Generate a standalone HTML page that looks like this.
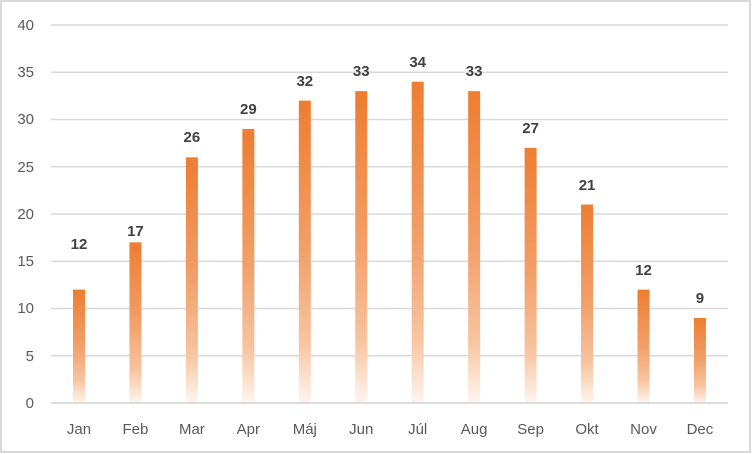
<!DOCTYPE html>
<html><head><meta charset="utf-8"><style>body{margin:0;background:#fff}svg{display:block}</style></head><body>
<svg width="752" height="454" xmlns="http://www.w3.org/2000/svg" font-family="Liberation Sans, sans-serif">
<defs><linearGradient id="g" x1="0" y1="0" x2="0" y2="1">
<stop offset="0" stop-color="#ED7D31"/><stop offset="0.5" stop-color="#F2A06A"/><stop offset="0.8" stop-color="#F7C4A0"/><stop offset="1" stop-color="#FEF5EF"/></linearGradient></defs>
<rect x="1" y="1" width="749" height="451" fill="#fff" stroke="#d9d9d9" stroke-width="2"/>
<g stroke="#d9d9d9" stroke-width="1.5">
<line x1="51" x2="728" y1="25" y2="25"/><line x1="51" x2="728" y1="72.3" y2="72.3"/><line x1="51" x2="728" y1="119.5" y2="119.5"/><line x1="51" x2="728" y1="166.8" y2="166.8"/><line x1="51" x2="728" y1="214" y2="214"/><line x1="51" x2="728" y1="261.3" y2="261.3"/><line x1="51" x2="728" y1="308.5" y2="308.5"/><line x1="51" x2="728" y1="355.8" y2="355.8"/></g>
<g font-size="15" fill="#595959" text-anchor="end">
<text x="34" y="30">40</text><text x="34" y="77">35</text><text x="34" y="124">30</text><text x="34" y="172">25</text><text x="34" y="219">20</text><text x="34" y="266">15</text><text x="34" y="313">10</text><text x="34" y="361">5</text><text x="34" y="408">0</text></g>
<g fill="url(#g)">
<rect x="73" y="289.6" width="12" height="113.4"/>
<rect x="129.45" y="242.35" width="12" height="160.65"/>
<rect x="185.9" y="157.3" width="12" height="245.7"/>
<rect x="242.35" y="128.95" width="12" height="274.05"/>
<rect x="298.8" y="100.6" width="12" height="302.4"/>
<rect x="355.25" y="91.15" width="12" height="311.85"/>
<rect x="411.7" y="81.7" width="12" height="321.3"/>
<rect x="468.15" y="91.15" width="12" height="311.85"/>
<rect x="524.6" y="147.85" width="12" height="255.15"/>
<rect x="581.05" y="204.55" width="12" height="198.45"/>
<rect x="637.5" y="289.6" width="12" height="113.4"/>
<rect x="693.95" y="317.95" width="12" height="85.05"/></g>
<line x1="51" x2="728" y1="403" y2="403" stroke="#d0d0d0" stroke-width="1.5"/>
<g font-size="15" font-weight="bold" fill="#404040" text-anchor="middle">
<text x="79" y="249">12</text><text x="135.45" y="236">17</text><text x="191.9" y="142">26</text><text x="248.35" y="114">29</text><text x="304.8" y="86">32</text><text x="361.25" y="76">33</text><text x="417.7" y="67">34</text><text x="474.15" y="76">33</text><text x="530.6" y="133">27</text><text x="587.05" y="190">21</text><text x="643.5" y="275">12</text><text x="699.95" y="303">9</text></g>
<g font-size="15" fill="#595959" text-anchor="middle">
<text x="79" y="434">Jan</text><text x="135.45" y="434">Feb</text><text x="191.9" y="434">Mar</text><text x="248.35" y="434">Apr</text><text x="304.8" y="434">Máj</text><text x="361.25" y="434">Jun</text><text x="417.7" y="434">Júl</text><text x="474.15" y="434">Aug</text><text x="530.6" y="434">Sep</text><text x="587.05" y="434">Okt</text><text x="643.5" y="434">Nov</text><text x="699.95" y="434">Dec</text></g>
</svg>
</body></html>
